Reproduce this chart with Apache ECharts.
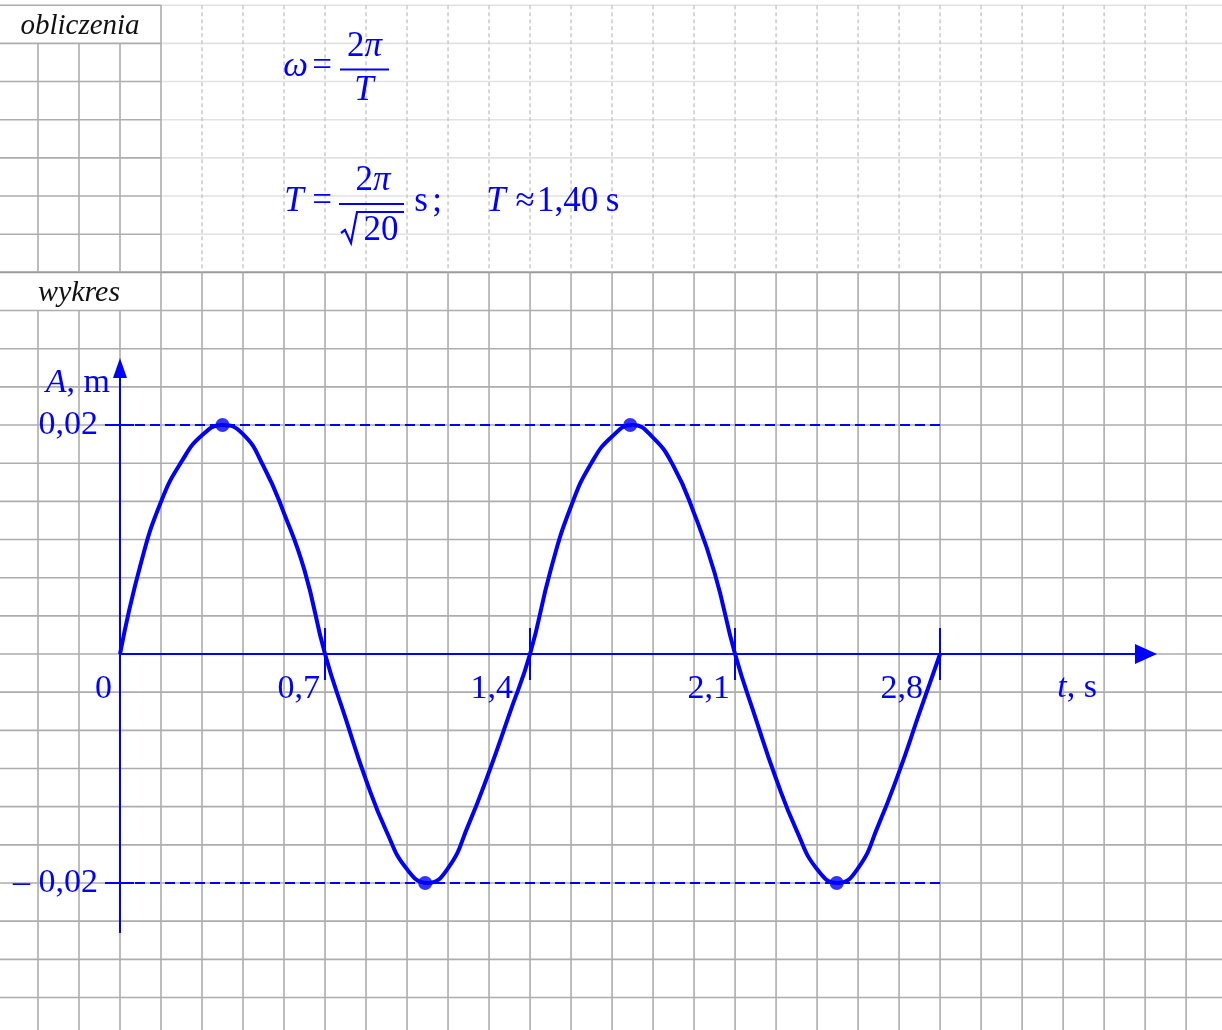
<!DOCTYPE html>
<html lang="pl">
<head>
<meta charset="utf-8">
<title>wykres</title>
<style>
html, body { margin: 0; padding: 0; background: #fff; }
#chart { width: 1222px; height: 1030px; }
</style>
</head>
<body>
<div id="chart"></div>
<script src="https://cdn.jsdelivr.net/npm/echarts@6/dist/echarts.min.js"></script>
<script>
// t [s] and A [m], every 0.07 s
var tCurve = [0, 0.07, 0.14, 0.21, 0.28, 0.35, 0.42, 0.49, 0.56, 0.63, 0.70,
    0.77, 0.84, 0.91, 0.98, 1.05, 1.12, 1.19, 1.26, 1.33, 1.40,
    1.47, 1.54, 1.61, 1.68, 1.75, 1.82, 1.89, 1.96, 2.03, 2.10,
    2.17, 2.24, 2.31, 2.38, 2.45, 2.52, 2.59, 2.66, 2.73, 2.80];
var aCurve = [0, 0.0078, 0.0133, 0.0168, 0.0191, 0.02, 0.0192, 0.0164, 0.0123, 0.0073, 0,
    -0.0056, -0.011, -0.0155, -0.0188, -0.02, -0.0187, -0.0149, -0.0103, -0.0052, 0,
    0.0073, 0.0129, 0.0167, 0.019, 0.02, 0.0189, 0.0164, 0.0123, 0.0071, 0,
    -0.0056, -0.0109, -0.0154, -0.0188, -0.02, -0.0187, -0.0149, -0.0103, -0.0051, 0];
var tPeaks = [0.35, 1.042, 1.742, 2.447];
var aPeaks = [0.02, -0.02, 0.02, -0.02];
var tTicks = [0.7, 1.4, 2.1, 2.8];
var tLabels = [0, 0.7, 1.4, 2.1, 2.8];
var aTicks = [0.02, -0.02];

var blue = '#0000ff';
var serif = '"Liberation Serif", "Times New Roman", serif';
var lineBlue = {color: blue, width: 2};

// labels 1,4 and 2,8 sit further left of their tick, clear of the curve
function fmtT(v) {
    if (v === 0) return '{z|0}';
    var s = v.toFixed(1).replace('.', ',');
    return (s === '1,4' || s === '2,8') ? '{f|' + s + '}' : '{n|' + s + '}';
}
function fmtA(v) {
    return (v < 0 ? '\u2013 ' : '') + Math.abs(v).toFixed(2).replace('.', ',');
}
function tok(padRight) {
    return {color: blue, fontFamily: serif, fontSize: 34, padding: [0, padRight, 0, 0]};
}

var curveData = tCurve.map(function (t, i) { return [t, aCurve[i]]; });
var peakData = tPeaks.map(function (t, i) { return [t, aPeaks[i]]; });
var tEnd = tTicks[tTicks.length - 1];

// plot box; the t axis sits on A = 0, so shift it up from the box edges
var gTop = 368, gHeight = 564, yMin = -0.02428, yMax = 0.02498, xMax = 3.503;
var zeroY = gTop + gHeight * yMax / (yMax - yMin);
var offBottom = zeroY - (gTop + gHeight);
var offTop = gTop - zeroY;

var chart = echarts.init(document.getElementById('chart'));
chart.setOption({
    animation: false,
    backgroundColor: '#fff',
    grid: {left: 120, top: gTop, width: 1026, height: gHeight, outerBoundsMode: 'none'},
    xAxis: [{
        type: 'value', position: 'bottom', offset: offBottom, min: 0, max: xMax,
        splitLine: {show: false},
        axisLine: {onZero: false, lineStyle: lineBlue, symbol: ['none', 'triangle'], symbolSize: [20, 22]},
        axisTick: {customValues: tTicks, length: 26, lineStyle: lineBlue},
        axisLabel: {
            customValues: tLabels, formatter: fmtT, showMinLabel: true,
            color: blue, fontFamily: serif, fontSize: 34,
            align: 'right', margin: 18,
            rich: {z: tok(8), n: tok(5), f: tok(17)}
        },
        name: '{i|t}, s', nameLocation: 'end', nameGap: -49, nameMoveOverlap: false,
        nameTextStyle: {
            color: blue, fontFamily: serif, fontSize: 34, align: 'right', verticalAlign: 'top',
            padding: [17, 0, 0, 0],
            rich: {i: {fontStyle: 'italic', color: blue, fontFamily: serif, fontSize: 34}}
        }
    }, {
        type: 'value', position: 'top', offset: offTop, min: 0, max: xMax,
        splitLine: {show: false},
        axisLine: {onZero: false, lineStyle: lineBlue},
        axisTick: {customValues: tTicks, length: 26, lineStyle: lineBlue},
        axisLabel: {show: false}
    }],
    yAxis: [{
        type: 'value', position: 'left', min: yMin, max: yMax,
        splitLine: {show: false},
        axisLine: {onZero: false, lineStyle: lineBlue, symbol: ['none', 'triangle'], symbolSize: [14, 20]},
        axisTick: {customValues: aTicks, length: 15, lineStyle: lineBlue},
        axisLabel: {
            customValues: aTicks, formatter: fmtA,
            color: blue, fontFamily: serif, fontSize: 34, margin: 22, padding: [6, 0, 0, 0]
        },
        name: '{i|A}, m', nameLocation: 'end', nameGap: 2, nameMoveOverlap: false,
        nameTextStyle: {
            color: blue, fontFamily: serif, fontSize: 34, align: 'right', verticalAlign: 'top',
            padding: [0, 10, 0, 0],
            rich: {i: {fontStyle: 'italic', color: blue, fontFamily: serif, fontSize: 34}}
        }
    }, {
        type: 'value', position: 'right', offset: -1026, min: yMin, max: yMax,
        splitLine: {show: false},
        axisLine: {onZero: false, lineStyle: lineBlue},
        axisTick: {customValues: aTicks, length: 14, lineStyle: lineBlue},
        axisLabel: {show: false}
    }],
    series: [{
        type: 'line',
        xAxisIndex: 0, yAxisIndex: 0,
        data: curveData,
        smooth: 0.5,
        showSymbol: false,
        lineStyle: {color: blue, width: 4},
        z: 3,
        markLine: {
            silent: true, symbol: 'none', label: {show: false},
            lineStyle: {color: blue, width: 2, type: [10, 5]},
            data: aTicks.map(function (a) { return [{coord: [0, a]}, {coord: [tEnd, a]}]; })
        }
    }, {
        type: 'scatter',
        xAxisIndex: 0, yAxisIndex: 0,
        data: peakData,
        symbol: 'circle', symbolSize: 14,
        itemStyle: {color: blue},
        z: 4
    }]
});

// graph paper: one cell = a fifth of the t step and a sixth of the A step
var cellT = tTicks[0] / 5, cellA = aTicks[0] / 6;
var W = 1222, H = 1030;
function px(t, a) { return chart.convertToPixel({xAxisIndex: 0, yAxisIndex: 0}, [t, a]); }

var cols = [], rows = {};
for (var k = -5; k <= 40; k++) {
    var x = px(k * cellT, 0)[0];
    if (x > 0 && x < W) cols.push({k: k, x: x});
}
for (k = -15; k <= 25; k++) {
    var y = px(0, k * cellA)[1];
    if (y > 0 && y < H) rows[k] = y;
}
var yMid = rows[10], yTop = rows[17], yHead = rows[16], yHead2 = rows[9];
var xBox = px(cellT, 0)[0];

var dark = '#adadad', light = '#e2e2e2', dash = '#c6c6c6';
var els = [];
function seg(x1, y1, x2, y2, stroke, w, lineDash) {
    els.push({type: 'line', z: -10, silent: true,
        shape: {x1: x1, y1: y1, x2: x2, y2: y2},
        style: {stroke: stroke, lineWidth: w, lineDash: lineDash || null}});
}
// lower part: full grid
for (k in rows) {
    var ry = rows[k];
    if (+k < 10) seg(0, ry, W, ry, dark, 1.6);
}
cols.forEach(function (c) {
    seg(c.x, c.k < 1 ? yHead2 : yMid, c.x, H, dark, 1.6);
});
seg(0, yMid, W, yMid, '#9a9a9a', 2);
// upper part
for (k = 11; k <= 17; k++) {
    seg(0, rows[k], xBox, rows[k], dark, 1.6);
    seg(xBox, rows[k], W, rows[k], light, 1.6);
}
cols.forEach(function (c) {
    if (c.k < 1) seg(c.x, yHead, c.x, yMid, dark, 1.6);
    else if (c.k === 1) seg(c.x, yTop, c.x, yMid, dark, 1.6);
    else seg(c.x, yTop, c.x, yMid, dash, 1.4, [4, 3]);
});

function tx(text, x, y, extra) {
    var st = {text: text, x: x, y: y, fill: blue, fontFamily: serif, fontSize: 35,
        align: 'center', verticalAlign: 'middle'};
    for (var p in extra) st[p] = extra[p];
    els.push({type: 'text', z: 5, silent: true, style: st});
}
var it = {fontStyle: 'italic'};
var piRich = {rich: {i: {fontStyle: 'italic', fontFamily: serif, fontSize: 35, fill: blue}}};

tx('obliczenia', 80, 26, {fill: '#111', fontSize: 29, fontStyle: 'italic'});
tx('wykres', 79, 293, {fill: '#111', fontSize: 30, fontStyle: 'italic'});

// omega = 2pi / T
tx('\u03c9', 295.5, 67, it);
tx('=', 322, 67);
tx('2{i|\u03c0}', 364.5, 47, piRich);
tx('T', 364, 91, it);
seg(340, 69.5, 389, 69.5, blue, 2);

// T = 2pi / sqrt(20) s ;  T ~ 1,40 s
tx('T', 294, 202, it);
tx('=', 322, 202);
tx('2{i|\u03c0}', 373, 181, piRich);
seg(339, 204, 404, 204, blue, 2);
els.push({type: 'polyline', z: 5, silent: true,
    shape: {points: [[341, 233], [345, 230], [351, 243], [357, 212], [404, 212]]},
    style: {stroke: blue, lineWidth: 2.2, fill: null}});
tx('20', 381, 231);
tx('s', 421, 202);
tx(';', 437, 202);
tx('T', 496, 202, it);
tx('\u2248', 525, 202);
tx('1,40', 567.5, 202);
tx('s', 612.5, 202);

chart.setOption({graphic: {elements: els}});
</script>
</body>
</html>
